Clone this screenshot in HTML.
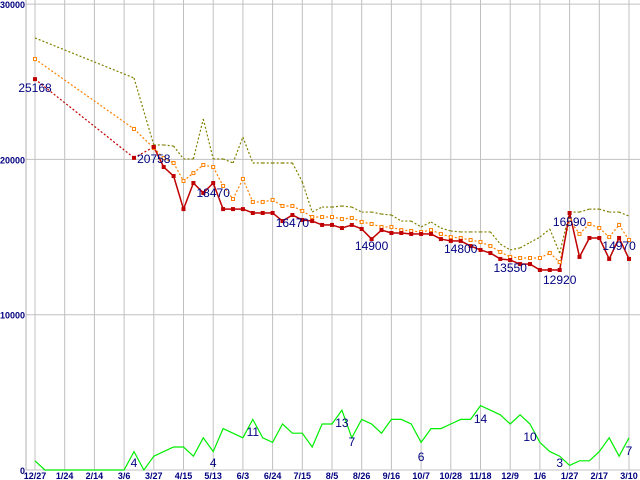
<!DOCTYPE html>
<html><head><meta charset="utf-8"><style>
body{margin:0;background:#fff}
svg{display:block}
text{font-family:"Liberation Sans",sans-serif}
</style></head><body>
<svg id="chart" width="640" height="480" viewBox="0 0 640 480" xmlns="http://www.w3.org/2000/svg"></svg>
<script>
const xLabels=["12/27","1/24","2/14","3/6","3/27","4/15","5/13","6/3","6/24","7/15","8/5","8/26","9/16","10/7","10/28","11/18","12/9","1/6","1/27","2/17","3/10"];
const xLabelIdx=[0,3,6,9,12,15,18,21,24,27,30,33,36,39,42,45,48,51,54,57,60];
const yTicks=[0,10000,20000,30000];
const N=null;
const redVals=[25168,N,N,N,N,N,N,N,N,N,20100,N,20800,19510,18930,16800,18480,17840,18480,16800,16800,16800,16550,16550,16550,16030,16420,16100,16030,15780,15780,15580,15780,15520,14870,15450,15260,15260,15200,15200,15200,14870,14750,14750,14420,14170,13970,13590,13520,13260,13260,12880,12880,12880,16550,13720,14940,14940,13590,14940,13590];
const orangeVals=[26460,N,N,N,N,N,N,N,N,N,21960,N,20730,20090,19770,18610,19120,19640,19510,18290,17450,18740,17260,17260,17390,17000,17000,16680,16290,16290,16290,16160,16230,15970,15840,15650,15650,15450,15390,15330,15450,15200,15000,14940,14810,14680,14420,14040,13720,13650,13650,13650,13970,13390,16100,15200,15840,15580,15000,15780,14810];
const oliveVals=[27820,N,N,N,N,N,N,N,N,N,25240,N,20930,20930,20860,20030,20030,22600,20030,20030,19770,21440,19770,19770,19770,19770,19770,18550,16610,16930,16930,17000,16930,16610,16610,16480,16420,16030,16030,15650,15970,15580,15390,15330,15330,15330,15330,14550,14170,14300,14650,15000,15520,13970,16610,16610,16800,16800,16610,16610,16350];
const greenVals=[2,0,0,0,0,0,0,0,0,0,4,0,3,4,5,5,3,7,4,9,8,7,11,7,6,10,8,8,5,10,10,13,7,11,10,8,11,11,10,6,9,9,10,11,11,14,13,12,10,12,10,6,4,3,1,2,2,4,7,3,7];
const priceNotes=["25168","20758","18470","16470","14900","14800","13550","12920","16590","14970"];
const priceNoteIdx=[0,12,18,26,34,43,48,53,54,59];
const priceNoteVal=[24340,19770,17580,15650,14170,13970,12750,11980,15710,14170];
const countNotes=["4","4","11","13","7","6","14","10","3","7"];
const countNoteIdx=[10,18,22,31,32,39,45,50,53,60];
const countNoteVal=[0,0,6.7,8.7,4.6,1.3,9.6,5.7,0,2.6];

const svg=document.getElementById('chart');
const NS='http://www.w3.org/2000/svg';
const X=i=>35+i*9.9;
const Y=v=>470-v*0.01553;
const YC=v=>Math.min(470,470-v*4.6);
function mk(tag,attrs,parent){const e=document.createElementNS(NS,tag);for(const k in attrs)e.setAttribute(k,attrs[k]);(parent||svg).appendChild(e);return e;}

yTicks.forEach((t,k)=>{
  const g=mk('line',{x1:26,x2:640,y1:Y(t),y2:Y(t),stroke:'#c0c0c0','stroke-width':1});
  
  
  const tx=mk('text',{x:t===0?20:0,y:Y(t)+4,fill:'#000080','font-size':9,'font-weight':'bold'});
  tx.textContent=String(t);
  
  
});
xLabelIdx.forEach((ix,k)=>{
  const g=mk('line',{x1:X(ix),x2:X(ix),y1:0,y2:470,stroke:'#c0c0c0','stroke-width':1});
  
  
  const tx=mk('text',{x:X(ix),y:479,fill:'#000080','font-size':9,'font-weight':'bold','text-anchor':'middle'});
  tx.textContent=xLabels[k];
  
  
});
const ax=mk('line',{x1:26,x2:26,y1:0,y2:470,stroke:'#b0b0b0','stroke-width':1});



function drawSeries(vals,color,name,solidConsecutive,dash,yf){
  let prev=-1;
  for(let i=0;i<vals.length;i++){
    if(vals[i]===null)continue;
    if(prev>=0){
      const solid=solidConsecutive&&(i-prev===1);
      const l=mk('line',{x1:X(prev),y1:yf(vals[prev]),x2:X(i),y2:yf(vals[i]),stroke:color,'stroke-width':solid?1.5:1.2});
      if(!solid)l.setAttribute('stroke-dasharray',dash);
      
      
    }
    prev=i;
  }
}
drawSeries(oliveVals,'#808000','olive-line',false,'2,2',Y);
drawSeries(orangeVals,'#ff8000','orange-line',false,'2,2',Y);
drawSeries(redVals,'#c00000','red-line',true,'2,2',Y);
orangeVals.forEach((v,i)=>{if(v===null)return;
  const r=mk('rect',{x:X(i)-1.5,y:Y(v)-1.5,width:3,height:3,fill:'#fff',stroke:'#ff8000','stroke-width':1});
  
  
});
redVals.forEach((v,i)=>{if(v===null)return;
  const r=mk('rect',{x:X(i)-2,y:Y(v)-2,width:4,height:4,fill:'#c00000'});
  
  
});
const gp=greenVals.map((v,i)=>X(i)+','+YC(v)).join(' ');
const gl=mk('polyline',{points:gp,fill:'none',stroke:'#00ee00','stroke-width':1.2});



priceNotes.forEach((s,k)=>{
  const t=mk('text',{x:X(priceNoteIdx[k]),y:Y(priceNoteVal[k]),fill:'#000080','font-size':12,'text-anchor':'middle'});
  t.textContent=s;
  
  
});
countNotes.forEach((s,k)=>{
  const t=mk('text',{x:X(countNoteIdx[k]),y:YC(countNoteVal[k])-3,fill:'#000080','font-size':12,'text-anchor':'middle'});
  t.textContent=s;
  
  
});
</script>
</body></html>
